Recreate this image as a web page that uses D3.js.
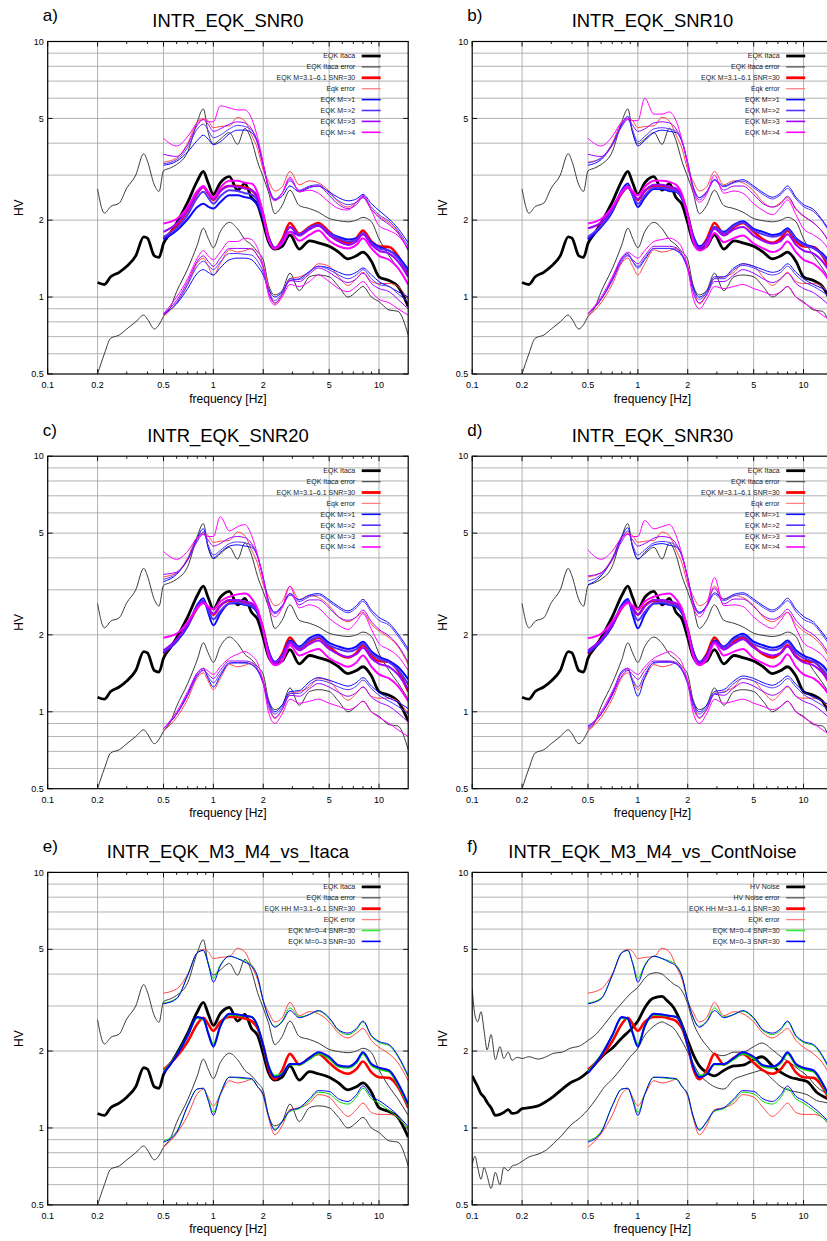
<!DOCTYPE html>
<html><head><meta charset="utf-8">
<script src="https://cdn.jsdelivr.net/npm/d3@7"></script>
<style>body{margin:0;background:#fff}svg{display:block}text{font-family:"Liberation Sans",Arial,Helvetica,sans-serif}</style>
</head><body><script>
// ---------- frequency grids ----------
const F_EQK = [0.5,0.6,0.7,0.8,0.87,0.93,1.0,1.1,1.25,1.4,1.55,1.7,1.85,2.0,2.15,2.35,2.6,2.9,3.3,3.8,4.3,5.0,5.7,6.5,7.3,8.0,9.0,10,11.5,13,15];
const F_IT = [0.2,0.22,0.24,0.27,0.3,0.34,0.38,0.4,0.44,0.47,0.5,0.55,0.6,0.7,0.8,0.87,0.93,1.0,1.1,1.25,1.4,1.55,1.7,1.85,2.0,2.15,2.35,2.6,2.9,3.3,3.8,4.3,5.0,5.7,6.5,7.3,8.0,9.0,10,11.5,13,15];
const F_N = [0.1,0.104,0.108,0.113,0.118,0.123,0.13,0.138,0.147,0.155,0.165,0.174,0.187,0.2,0.22,0.25,0.28,0.31,0.35,0.39,0.45,0.5,0.56,0.63,0.7,0.8,0.9,1.0,1.1,1.2,1.3,1.4,1.5,1.65,1.8,2.0,2.15,2.35,2.6,2.9,3.3,3.8,4.3,5.0,5.6,6.5,7.3,8.3,9.3,10.5,12,14,15];

// ---------- ITACA ----------
const it_mean = [1.14,1.12,1.20,1.25,1.32,1.45,1.72,1.70,1.45,1.43,1.62,1.78,1.95,2.35,2.85,3.10,2.80,2.52,2.80,2.96,2.62,2.78,2.45,2.30,1.95,1.65,1.54,1.58,1.75,1.54,1.66,1.63,1.58,1.50,1.41,1.45,1.50,1.38,1.20,1.16,1.10,0.92];
const it_up = [2.65,2.13,2.26,2.33,2.67,3.00,3.64,3.40,2.75,2.59,3.12,3.20,3.30,3.70,4.86,5.45,4.40,3.97,4.15,4.40,3.96,4.57,4.10,3.38,2.95,2.58,2.12,2.28,2.62,2.28,2.22,2.15,2.03,1.99,1.97,2.00,2.05,1.97,1.69,1.45,1.30,1.12];
const it_lo = [0.50,0.60,0.69,0.71,0.75,0.80,0.85,0.82,0.75,0.78,0.84,0.91,1.05,1.29,1.60,1.86,1.70,1.56,1.80,1.96,1.85,1.68,1.60,1.50,1.40,1.12,1.02,1.06,1.24,1.06,1.20,1.22,1.20,1.10,1.00,1.05,1.10,1.00,0.96,0.89,0.88,0.71];

// ---------- EQK M=3.1-6.1 SNR=30 ----------
const red_mean = [1.69,1.90,2.18,2.55,2.70,2.55,2.40,2.60,2.72,2.72,2.68,2.62,2.45,2.10,1.72,1.55,1.68,1.95,1.77,1.88,1.95,1.80,1.68,1.63,1.70,1.82,1.65,1.58,1.57,1.45,1.20];
const red_up = [3.37,3.50,4.00,4.85,5.00,4.90,4.60,4.65,4.68,5.05,4.88,4.30,3.80,3.15,2.85,2.60,2.70,3.10,2.75,2.85,2.80,2.60,2.35,2.25,2.35,2.45,2.20,2.07,1.95,1.80,1.53];
const red_lo = [0.84,0.95,1.12,1.36,1.42,1.32,1.22,1.35,1.53,1.50,1.52,1.55,1.45,1.33,1.10,0.94,1.02,1.18,1.20,1.25,1.35,1.32,1.20,1.11,1.18,1.25,1.15,1.13,1.13,1.10,0.98];

// ---------- SNR0 ----------
const a_m1_mean = [1.68,1.82,2.02,2.25,2.32,2.26,2.22,2.35,2.50,2.50,2.46,2.42,2.28,2.02,1.72,1.56,1.62,1.80,1.75,1.86,1.90,1.78,1.72,1.68,1.70,1.76,1.64,1.57,1.52,1.44,1.28];
const a_m1_up = [3.28,3.40,3.70,4.10,4.30,4.15,3.95,4.05,4.35,4.50,4.50,4.40,4.00,3.30,2.70,2.40,2.48,2.72,2.58,2.68,2.72,2.58,2.45,2.38,2.42,2.52,2.32,2.18,2.02,1.86,1.63];
const a_m1_lo = [0.86,0.94,1.08,1.24,1.28,1.25,1.22,1.30,1.40,1.42,1.42,1.40,1.32,1.22,1.08,1.00,1.05,1.16,1.18,1.26,1.32,1.30,1.25,1.22,1.25,1.30,1.22,1.15,1.10,1.05,1.00];
const a_m2_mean = [1.72,1.86,2.10,2.45,2.58,2.45,2.32,2.48,2.62,2.60,2.55,2.52,2.38,2.05,1.70,1.55,1.65,1.88,1.76,1.87,1.92,1.78,1.70,1.65,1.68,1.78,1.62,1.55,1.52,1.42,1.25];
const a_m2_up = [3.32,3.45,3.85,4.55,4.75,4.50,4.20,4.30,4.55,4.70,4.65,4.50,4.05,3.30,2.72,2.42,2.55,2.85,2.62,2.72,2.75,2.55,2.38,2.30,2.35,2.48,2.25,2.10,1.98,1.82,1.58];
const a_m2_lo = [0.85,0.95,1.12,1.32,1.38,1.33,1.28,1.37,1.48,1.48,1.47,1.46,1.38,1.25,1.05,0.97,1.04,1.18,1.17,1.25,1.32,1.28,1.22,1.18,1.22,1.28,1.18,1.12,1.10,1.03,0.96];
const a_m3_mean = [1.80,1.94,2.20,2.55,2.70,2.55,2.42,2.60,2.72,2.70,2.66,2.62,2.45,2.08,1.70,1.55,1.66,1.88,1.74,1.84,1.90,1.75,1.65,1.60,1.65,1.76,1.60,1.52,1.48,1.38,1.20];
const a_m3_up = [3.62,3.55,3.95,4.70,4.95,4.75,4.45,4.55,4.75,4.85,4.80,4.55,4.00,3.25,2.68,2.40,2.55,2.90,2.60,2.70,2.72,2.50,2.30,2.22,2.30,2.45,2.20,2.05,1.92,1.78,1.52];
const a_m3_lo = [0.86,0.97,1.15,1.38,1.45,1.38,1.32,1.42,1.55,1.55,1.55,1.54,1.45,1.30,1.05,0.95,1.02,1.16,1.15,1.23,1.30,1.25,1.18,1.14,1.18,1.24,1.13,1.08,1.05,0.98,0.90];
const a_m4_mean = [1.94,2.02,2.25,2.60,2.72,2.58,2.45,2.68,2.85,2.85,2.80,2.78,2.55,2.10,1.68,1.55,1.62,1.80,1.66,1.75,1.82,1.66,1.58,1.55,1.60,1.70,1.55,1.45,1.40,1.30,1.12];
const a_m4_up = [4.18,3.90,4.25,4.80,4.95,4.85,4.85,5.60,5.50,5.40,5.40,5.00,4.20,3.35,2.65,2.38,2.55,2.95,2.58,2.62,2.55,2.35,2.22,2.19,2.35,2.50,2.18,1.90,1.82,1.74,1.55];
const a_m4_lo = [0.86,1.00,1.18,1.42,1.52,1.45,1.40,1.50,1.65,1.65,1.70,1.68,1.55,1.32,1.02,0.93,1.00,1.12,1.10,1.15,1.22,1.15,1.08,1.05,1.10,1.15,1.05,0.98,0.95,0.90,0.85];

// ---------- SNR10 ----------
const b_m1_mean = [1.68,1.88,2.15,2.62,2.78,2.50,2.25,2.45,2.65,2.65,2.60,2.58,2.42,2.08,1.75,1.58,1.66,1.88,1.80,1.92,1.98,1.85,1.80,1.75,1.78,1.86,1.70,1.62,1.56,1.48,1.32];
const b_m1_up = [3.28,3.45,3.95,4.75,5.10,4.40,3.90,4.10,4.40,4.50,4.45,4.40,4.05,3.35,2.72,2.45,2.58,2.88,2.72,2.82,2.88,2.72,2.56,2.46,2.56,2.72,2.46,2.30,2.20,2.00,1.75];
const b_m1_lo = [0.86,0.98,1.18,1.42,1.48,1.38,1.30,1.40,1.55,1.55,1.55,1.52,1.45,1.30,1.10,1.00,1.05,1.20,1.20,1.30,1.35,1.32,1.28,1.25,1.28,1.35,1.25,1.18,1.12,1.08,1.02];
const b_m2_mean = [1.72,1.90,2.18,2.60,2.72,2.52,2.32,2.50,2.68,2.68,2.64,2.60,2.45,2.08,1.72,1.56,1.65,1.88,1.78,1.90,1.96,1.82,1.76,1.72,1.75,1.84,1.68,1.60,1.55,1.46,1.28];
const b_m2_up = [3.35,3.50,3.95,4.70,5.00,4.50,4.05,4.25,4.55,4.60,4.55,4.45,4.05,3.35,2.72,2.45,2.58,2.86,2.70,2.80,2.84,2.68,2.52,2.42,2.52,2.66,2.42,2.26,2.16,1.98,1.70];
const b_m2_lo = [0.86,0.98,1.16,1.40,1.46,1.38,1.32,1.42,1.55,1.55,1.55,1.53,1.45,1.28,1.08,0.98,1.04,1.18,1.18,1.28,1.33,1.30,1.25,1.22,1.25,1.32,1.22,1.15,1.10,1.05,0.98];
const b_m3_mean = [1.86,1.96,2.22,2.56,2.68,2.55,2.42,2.60,2.75,2.75,2.70,2.66,2.48,2.08,1.70,1.55,1.64,1.85,1.74,1.84,1.88,1.74,1.66,1.62,1.66,1.76,1.60,1.52,1.48,1.38,1.20];
const b_m3_up = [3.62,3.55,3.92,4.65,4.95,4.70,4.45,4.55,4.80,4.85,4.80,4.55,4.05,3.30,2.68,2.40,2.56,2.88,2.62,2.72,2.72,2.52,2.32,2.25,2.32,2.48,2.22,2.08,1.95,1.80,1.55];
const b_m3_lo = [0.86,0.98,1.16,1.38,1.45,1.40,1.35,1.45,1.58,1.58,1.58,1.56,1.47,1.30,1.05,0.95,1.02,1.15,1.15,1.22,1.28,1.24,1.18,1.14,1.18,1.24,1.13,1.08,1.04,0.98,0.90];
const b_m4_mean = [1.94,2.02,2.25,2.58,2.70,2.60,2.50,2.70,2.85,2.85,2.82,2.75,2.52,2.08,1.66,1.52,1.58,1.78,1.64,1.70,1.74,1.62,1.55,1.50,1.55,1.65,1.50,1.40,1.35,1.26,1.10];
const b_m4_up = [4.18,3.90,4.25,4.85,5.00,4.90,4.90,6.00,5.20,5.20,5.30,4.90,4.10,3.30,2.62,2.35,2.52,3.00,2.55,2.60,2.55,2.32,2.18,2.10,2.25,2.40,2.10,1.85,1.75,1.65,1.45];
const b_m4_lo = [0.86,1.00,1.20,1.43,1.50,1.46,1.42,1.52,1.65,1.68,1.70,1.66,1.55,1.30,1.00,0.90,0.98,1.10,1.08,1.10,1.12,1.08,1.05,1.02,1.05,1.10,1.00,0.95,0.90,0.85,0.80];

// ---------- SNR20 ----------
const c_m1_mean = [1.70,1.88,2.16,2.62,2.78,2.45,2.18,2.42,2.65,2.66,2.62,2.58,2.42,2.08,1.74,1.57,1.66,1.90,1.80,1.94,2.00,1.86,1.80,1.76,1.80,1.88,1.72,1.64,1.58,1.50,1.34];
const c_m1_up = [3.23,3.45,3.95,4.80,5.20,4.40,4.00,4.20,4.45,4.50,4.45,4.40,4.05,3.35,2.72,2.45,2.60,2.90,2.74,2.86,2.90,2.74,2.58,2.48,2.60,2.75,2.50,2.34,2.22,2.02,1.76];
const c_m1_lo = [0.86,0.98,1.18,1.42,1.48,1.35,1.25,1.38,1.55,1.56,1.56,1.53,1.45,1.30,1.10,1.00,1.06,1.20,1.21,1.31,1.36,1.33,1.29,1.26,1.30,1.36,1.26,1.19,1.13,1.09,1.03];
const c_m2_mean = [1.72,1.90,2.18,2.58,2.72,2.50,2.30,2.48,2.66,2.68,2.64,2.60,2.45,2.08,1.72,1.56,1.65,1.88,1.78,1.90,1.96,1.82,1.76,1.72,1.76,1.85,1.69,1.61,1.56,1.46,1.28];
const c_m2_up = [3.30,3.48,3.95,4.72,5.05,4.50,4.10,4.28,4.55,4.62,4.58,4.48,4.05,3.35,2.72,2.45,2.58,2.86,2.70,2.82,2.86,2.70,2.54,2.44,2.55,2.70,2.45,2.28,2.18,1.98,1.72];
const c_m2_lo = [0.86,0.98,1.16,1.40,1.46,1.37,1.30,1.41,1.55,1.55,1.55,1.53,1.45,1.28,1.08,0.98,1.04,1.18,1.18,1.28,1.33,1.30,1.25,1.22,1.26,1.33,1.23,1.16,1.10,1.05,0.98];
const c_m3_mean = [1.74,1.92,2.20,2.56,2.68,2.55,2.42,2.60,2.74,2.74,2.70,2.66,2.48,2.08,1.70,1.55,1.64,1.86,1.74,1.84,1.90,1.76,1.68,1.64,1.68,1.78,1.62,1.54,1.50,1.40,1.22];
const c_m3_up = [3.45,3.52,3.92,4.65,4.95,4.70,4.45,4.55,4.78,4.85,4.80,4.55,4.05,3.30,2.68,2.42,2.56,2.90,2.62,2.74,2.74,2.55,2.35,2.28,2.35,2.50,2.25,2.10,1.98,1.82,1.56];
const c_m3_lo = [0.86,0.98,1.16,1.38,1.45,1.40,1.35,1.45,1.58,1.58,1.58,1.56,1.47,1.30,1.05,0.95,1.02,1.16,1.15,1.23,1.29,1.25,1.19,1.15,1.19,1.25,1.14,1.09,1.05,0.99,0.91];
const c_m4_mean = [1.95,2.02,2.25,2.55,2.66,2.58,2.52,2.70,2.82,2.88,2.90,2.78,2.52,2.08,1.66,1.52,1.58,1.82,1.66,1.72,1.76,1.62,1.55,1.50,1.56,1.66,1.50,1.40,1.35,1.26,1.10];
const c_m4_up = [4.24,3.95,4.25,4.80,4.95,4.85,4.85,5.80,5.10,5.30,5.40,4.90,4.10,3.30,2.62,2.35,2.55,3.10,2.55,2.62,2.55,2.32,2.18,2.10,2.25,2.42,2.10,1.85,1.75,1.65,1.45];
const c_m4_lo = [0.86,1.00,1.20,1.42,1.48,1.44,1.40,1.50,1.62,1.68,1.72,1.66,1.55,1.30,1.00,0.90,0.98,1.12,1.08,1.10,1.12,1.08,1.05,1.02,1.05,1.10,1.00,0.95,0.90,0.85,0.80];

// ---------- SNR30 ----------
const d_m1_mean = [1.70,1.88,2.16,2.62,2.76,2.40,2.12,2.40,2.65,2.66,2.62,2.58,2.42,2.08,1.74,1.57,1.66,1.90,1.80,1.95,2.02,1.88,1.82,1.78,1.82,1.90,1.74,1.66,1.60,1.52,1.35];
const d_m1_up = [3.14,3.40,3.95,4.85,5.25,4.40,3.95,4.20,4.50,4.55,4.48,4.42,4.05,3.35,2.72,2.45,2.60,2.92,2.76,2.88,2.92,2.76,2.60,2.50,2.62,2.78,2.52,2.36,2.24,2.04,1.78];
const d_m1_lo = [0.88,0.98,1.18,1.44,1.48,1.30,1.15,1.36,1.56,1.57,1.57,1.54,1.45,1.30,1.10,1.00,1.06,1.20,1.22,1.32,1.38,1.35,1.30,1.27,1.32,1.38,1.28,1.20,1.14,1.10,1.04];
const d_m2_mean = [1.72,1.90,2.18,2.58,2.72,2.48,2.28,2.46,2.66,2.68,2.64,2.60,2.45,2.08,1.72,1.56,1.65,1.88,1.78,1.92,1.98,1.84,1.78,1.74,1.78,1.87,1.70,1.62,1.57,1.47,1.30];
const d_m2_up = [3.25,3.45,3.95,4.75,5.10,4.50,4.10,4.30,4.58,4.64,4.60,4.48,4.05,3.35,2.72,2.45,2.58,2.88,2.72,2.84,2.88,2.72,2.56,2.46,2.58,2.72,2.47,2.30,2.20,2.00,1.74];
const d_m2_lo = [0.87,0.98,1.16,1.42,1.46,1.34,1.25,1.40,1.55,1.56,1.56,1.54,1.45,1.28,1.08,0.98,1.04,1.18,1.19,1.29,1.35,1.32,1.27,1.24,1.28,1.35,1.25,1.17,1.11,1.06,0.99];
const d_m3_mean = [1.74,1.92,2.20,2.56,2.68,2.55,2.40,2.58,2.74,2.74,2.70,2.66,2.48,2.08,1.70,1.55,1.64,1.88,1.75,1.85,1.92,1.78,1.70,1.66,1.70,1.80,1.64,1.56,1.52,1.42,1.24];
const d_m3_up = [3.40,3.50,3.92,4.65,4.95,4.70,4.45,4.55,4.78,4.85,4.80,4.55,4.05,3.30,2.68,2.42,2.60,3.05,2.64,2.76,2.76,2.58,2.38,2.30,2.38,2.52,2.28,2.12,2.00,1.84,1.58];
const d_m3_lo = [0.86,0.98,1.16,1.38,1.45,1.40,1.34,1.45,1.58,1.58,1.58,1.56,1.47,1.30,1.05,0.95,1.02,1.17,1.16,1.24,1.30,1.26,1.20,1.16,1.20,1.26,1.15,1.10,1.06,1.00,0.92];
const d_m4_mean = [1.94,2.02,2.25,2.55,2.66,2.60,2.52,2.70,2.82,2.88,2.90,2.76,2.52,2.08,1.66,1.52,1.60,1.85,1.66,1.72,1.76,1.62,1.55,1.50,1.56,1.68,1.50,1.40,1.35,1.26,1.10];
const d_m4_up = [4.30,3.95,4.25,4.80,4.95,4.85,4.85,5.60,5.20,5.30,5.40,4.90,4.10,3.30,2.62,2.35,2.60,3.35,2.60,2.62,2.58,2.35,2.20,2.12,2.28,2.45,2.12,1.86,1.76,1.66,1.46];
const d_m4_lo = [0.86,1.00,1.20,1.42,1.48,1.44,1.40,1.50,1.62,1.68,1.72,1.66,1.55,1.30,1.00,0.90,0.98,1.12,1.08,1.10,1.12,1.08,1.05,1.02,1.05,1.10,1.00,0.95,0.90,0.85,0.80];

// ---------- EQK M=0-4 / M=0-3 SNR=30 ----------
const g_mean = [1.66,1.93,2.30,2.70,2.66,2.36,2.12,2.50,2.78,2.76,2.74,2.72,2.50,2.10,1.76,1.60,1.63,1.77,1.77,1.86,1.95,1.87,1.74,1.72,1.80,1.95,1.76,1.70,1.66,1.48,1.22];
const g_up = [3.08,3.22,3.95,4.85,4.95,4.45,3.85,4.35,4.70,4.60,4.50,4.35,3.90,3.15,2.72,2.50,2.62,2.95,2.72,2.78,2.86,2.68,2.40,2.32,2.42,2.60,2.28,2.16,2.10,1.90,1.58];
const g_lo = [0.89,0.97,1.22,1.42,1.43,1.30,1.15,1.36,1.58,1.57,1.56,1.55,1.45,1.35,1.12,0.99,1.05,1.16,1.19,1.28,1.38,1.36,1.27,1.24,1.32,1.43,1.30,1.25,1.17,1.10,0.99];
const bl_mean = [1.64,1.92,2.30,2.72,2.68,2.35,2.08,2.50,2.80,2.78,2.75,2.72,2.50,2.10,1.75,1.58,1.62,1.78,1.78,1.88,1.98,1.90,1.76,1.74,1.82,1.98,1.78,1.72,1.68,1.50,1.24];
const bl_up = [3.06,3.20,3.95,4.85,4.95,4.40,3.72,4.30,4.70,4.60,4.45,4.30,3.90,3.15,2.72,2.48,2.60,2.88,2.70,2.78,2.88,2.70,2.42,2.35,2.45,2.62,2.30,2.18,2.12,1.92,1.60];
const bl_lo = [0.88,0.96,1.22,1.42,1.43,1.28,1.12,1.35,1.58,1.58,1.57,1.56,1.45,1.35,1.12,0.98,1.06,1.17,1.20,1.30,1.40,1.39,1.30,1.27,1.35,1.46,1.33,1.28,1.20,1.12,1.01];

// ---------- HV Noise ----------
const n_mean = [1.60,1.52,1.45,1.36,1.32,1.26,1.20,1.12,1.13,1.15,1.18,1.14,1.15,1.19,1.20,1.22,1.27,1.33,1.42,1.50,1.57,1.66,1.80,1.95,2.05,2.25,2.42,2.62,2.95,3.18,3.25,3.27,3.15,2.95,2.63,2.20,1.95,1.75,1.65,1.60,1.68,1.75,1.76,1.85,1.90,1.75,1.65,1.58,1.55,1.52,1.38,1.30,1.26];
const n_up = [3.50,2.75,2.60,2.85,2.40,2.02,2.32,1.85,2.08,1.87,1.98,1.84,1.89,1.87,1.90,1.86,1.90,1.96,1.98,2.05,2.10,2.20,2.33,2.55,2.78,3.08,3.35,3.55,3.85,4.02,4.05,4.00,3.85,3.65,3.52,3.06,2.60,2.30,2.10,1.95,1.92,1.98,1.98,2.08,2.15,2.02,1.90,1.80,1.70,1.60,1.45,1.35,1.30];
const n_lo = [0.72,0.775,0.70,0.63,0.70,0.65,0.58,0.67,0.60,0.70,0.68,0.71,0.72,0.74,0.77,0.79,0.82,0.87,0.94,1.02,1.10,1.18,1.30,1.45,1.55,1.72,1.90,2.05,2.30,2.45,2.55,2.60,2.55,2.45,2.25,1.98,1.80,1.62,1.52,1.45,1.42,1.55,1.60,1.65,1.68,1.55,1.45,1.40,1.38,1.35,1.28,1.25,1.22];

// ---------- axis ticks ----------
const xTickVals = [0.1,0.2,0.5,1,2,5,10];
const yTickVals = [0.5,1,2,5,10];
const xGridVals = [0.2,0.5,1,2,5,10];
const yGridVals = [0.6,0.7,0.8,0.9,1,2,3,4,5,6,7,8,9];
const xMinorVals = [0.3,0.4,0.6,0.7,0.8,0.9,3,4,6,7,8,9];

// ---------- drawing ----------
const W = 827, H = 1241;
const PW = 360.5, PH = 332.5;
const COLX = [47.7, 472.2];
const ROWY = [41.5, 456.2, 872.4];
const C = {it:"#000000", itErr:"#3a3a3a", red:"#ff0000", redErr:"#ff4646",
  m1:"#0a0aff", m2:"#5533ff", m3:"#9f00ff", m4:"#ff00ff", green:"#00d800", blue:"#0000ff"};

const svg = d3.select("body").append("svg").attr("width", W).attr("height", H);
svg.append("rect").attr("width", W).attr("height", H).attr("fill", "#fff");
const defs = svg.append("defs");
defs.append("clipPath").attr("id","pclip").append("rect").attr("x",0).attr("y",0).attr("width",PW).attr("height",PH);

const x = d3.scaleLog().domain([0.1, 15]).range([0, PW]);
const y = d3.scaleLog().domain([0.5, 10]).range([PH, 0]);
const line = d3.line().x(d => x(d[0])).y(d => y(d[1])).curve(d3.curveMonotoneX);

function S(f, v, color, w){ return {pts: f.map((fr,i)=>[fr, v[i]]), color, w}; }

function panel(col, row, tag, title, series, legend){
  const g = svg.append("g").attr("transform", `translate(${COLX[col]},${ROWY[row]})`);
  g.append("g").selectAll("line").data(yGridVals).join("line")
    .attr("x1",0).attr("x2",PW).attr("y1",d=>y(d)).attr("y2",d=>y(d))
    .attr("stroke","#aaaaaa").attr("stroke-width",0.9);
  g.append("g").selectAll("line").data(xGridVals).join("line")
    .attr("y1",0).attr("y2",PH).attr("x1",d=>x(d)).attr("x2",d=>x(d))
    .attr("stroke","#aaaaaa").attr("stroke-width",0.9);
  const tk = g.append("g").attr("stroke","#000").attr("stroke-width",0.9);
  xTickVals.forEach(v=>{ tk.append("line").attr("x1",x(v)).attr("x2",x(v)).attr("y1",PH).attr("y2",PH-5);
                         tk.append("line").attr("x1",x(v)).attr("x2",x(v)).attr("y1",0).attr("y2",5); });
  xMinorVals.forEach(v=>{ tk.append("line").attr("x1",x(v)).attr("x2",x(v)).attr("y1",PH).attr("y2",PH-2.5);
                          tk.append("line").attr("x1",x(v)).attr("x2",x(v)).attr("y1",0).attr("y2",2.5); });
  yTickVals.forEach(v=>{ tk.append("line").attr("x1",0).attr("x2",5).attr("y1",y(v)).attr("y2",y(v));
                         tk.append("line").attr("x1",PW).attr("x2",PW-5).attr("y1",y(v)).attr("y2",y(v)); });
  const cg = g.append("g").attr("clip-path","url(#pclip)");
  series.forEach(s=>{
    cg.append("path").attr("d", line(s.pts)).attr("fill","none")
      .attr("stroke", s.color).attr("stroke-width", s.w).attr("stroke-linejoin","round");
  });
  g.append("rect").attr("x",0).attr("y",0).attr("width",PW).attr("height",PH)
    .attr("fill","none").attr("stroke","#000").attr("stroke-width",1.2);
  g.append("g").selectAll("text").data(xTickVals).join("text")
    .attr("x",d=>x(d)).attr("y",PH+14).attr("text-anchor","middle")
    .attr("font-size",9).text(d=>String(d));
  g.append("g").selectAll("text").data(yTickVals).join("text")
    .attr("x",-4).attr("y",d=>y(d)).attr("dy","0.35em").attr("text-anchor","end")
    .attr("font-size",9).text(d=>String(d));
  g.append("text").attr("x",PW/2).attr("y",PH+28.5).attr("text-anchor","middle")
    .attr("font-size",12).text("frequency [Hz]");
  g.append("text").attr("transform",`translate(-25,${PH/2}) rotate(-90)`).attr("text-anchor","middle")
    .attr("font-size",12).text("HV");
  g.append("text").attr("x",PW/2).attr("y",-14.5).attr("text-anchor","middle")
    .attr("font-size",18.4).text(title);
  g.append("text").attr("x",-5).attr("y",-20.5).attr("font-size",17).text(tag);
  const lg = g.append("g");
  legend.forEach((e,i)=>{
    const yy = 14.5 + i*10.9;
    lg.append("text").attr("x",307.5).attr("y",yy).attr("dy","0.35em").attr("text-anchor","end")
      .attr("font-size",7).attr("fill","#222").text(e[0]);
    lg.append("line").attr("x1",314).attr("x2",333).attr("y1",yy).attr("y2",yy)
      .attr("stroke",e[1]).attr("stroke-width",e[2]);
  });
}

const baseSeries = [
  S(F_IT, it_mean, C.it, 2.8), S(F_IT, it_up, C.itErr, 1), S(F_IT, it_lo, C.itErr, 1),
  S(F_EQK, red_mean, C.red, 2.6), S(F_EQK, red_up, C.redErr, 1), S(F_EQK, red_lo, C.redErr, 1)
];
function snrSeries(m1m,m1u,m1l,m2m,m2u,m2l,m3m,m3u,m3l,m4m,m4u,m4l){
  return baseSeries.concat([
    S(F_EQK,m1m,C.m1,2), S(F_EQK,m1u,C.m1,1), S(F_EQK,m1l,C.m1,1),
    S(F_EQK,m2m,C.m2,2), S(F_EQK,m2u,C.m2,1), S(F_EQK,m2l,C.m2,1),
    S(F_EQK,m3m,C.m3,2), S(F_EQK,m3u,C.m3,1), S(F_EQK,m3l,C.m3,1),
    S(F_EQK,m4m,C.m4,2), S(F_EQK,m4u,C.m4,1), S(F_EQK,m4l,C.m4,1)
  ]);
}
const snrLegend = [
  ["EQK Itaca", "#000", 2.8], ["EQK Itaca error", "#555", 1.3],
  ["EQK M=3.1\u20136.1 SNR=30", "#ff0000", 2.8], ["Eqk error", "#ff8080", 1.3],
  ["EQK M=>1", C.m1, 1.6], ["EQK M=>2", C.m2, 1.6], ["EQK M=>3", C.m3, 1.6], ["EQK M=>4", C.m4, 1.6]
];

panel(0,0,"a)","INTR_EQK_SNR0", snrSeries(a_m1_mean,a_m1_up,a_m1_lo,a_m2_mean,a_m2_up,a_m2_lo,a_m3_mean,a_m3_up,a_m3_lo,a_m4_mean,a_m4_up,a_m4_lo), snrLegend);
panel(1,0,"b)","INTR_EQK_SNR10", snrSeries(b_m1_mean,b_m1_up,b_m1_lo,b_m2_mean,b_m2_up,b_m2_lo,b_m3_mean,b_m3_up,b_m3_lo,b_m4_mean,b_m4_up,b_m4_lo), snrLegend);
panel(0,1,"c)","INTR_EQK_SNR20", snrSeries(c_m1_mean,c_m1_up,c_m1_lo,c_m2_mean,c_m2_up,c_m2_lo,c_m3_mean,c_m3_up,c_m3_lo,c_m4_mean,c_m4_up,c_m4_lo), snrLegend);
panel(1,1,"d)","INTR_EQK_SNR30", snrSeries(d_m1_mean,d_m1_up,d_m1_lo,d_m2_mean,d_m2_up,d_m2_lo,d_m3_mean,d_m3_up,d_m3_lo,d_m4_mean,d_m4_up,d_m4_lo), snrLegend);

const gbSeries = [
  S(F_EQK, g_mean, C.green, 2), S(F_EQK, g_up, C.green, 1), S(F_EQK, g_lo, C.green, 1),
  S(F_EQK, bl_mean, C.blue, 2), S(F_EQK, bl_up, C.blue, 1), S(F_EQK, bl_lo, C.blue, 1)
];
panel(0,2,"e)","INTR_EQK_M3_M4_vs_Itaca", baseSeries.concat(gbSeries), [
  ["EQK Itaca", "#000", 2.8], ["EQK Itaca error", "#555", 1.3],
  ["EQK HH M=3.1\u20136.1 SNR=30", "#ff0000", 2.8], ["EQK error", "#ff8080", 1.3],
  ["EQK M=0\u20134 SNR=30", "#33ee33", 1.6], ["EQK M=0\u20133 SNR=30", C.blue, 1.6]
]);
panel(1,2,"f)","INTR_EQK_M3_M4_vs_ContNoise", [
  S(F_N, n_mean, C.it, 2.8), S(F_N, n_up, C.itErr, 1), S(F_N, n_lo, C.itErr, 1),
  S(F_EQK, red_mean, C.red, 2.6), S(F_EQK, red_up, C.redErr, 1), S(F_EQK, red_lo, C.redErr, 1)
].concat(gbSeries), [
  ["HV Noise", "#000", 2.8], ["HV Noise error", "#555", 1.3],
  ["EQK HH M=3.1\u20136.1 SNR=30", "#ff0000", 2.8], ["EQK error", "#ff8080", 1.3],
  ["EQK M=0\u20134 SNR=30", "#33ee33", 1.6], ["EQK M=0\u20133 SNR=30", C.blue, 1.6]
]);
</script></body></html>
